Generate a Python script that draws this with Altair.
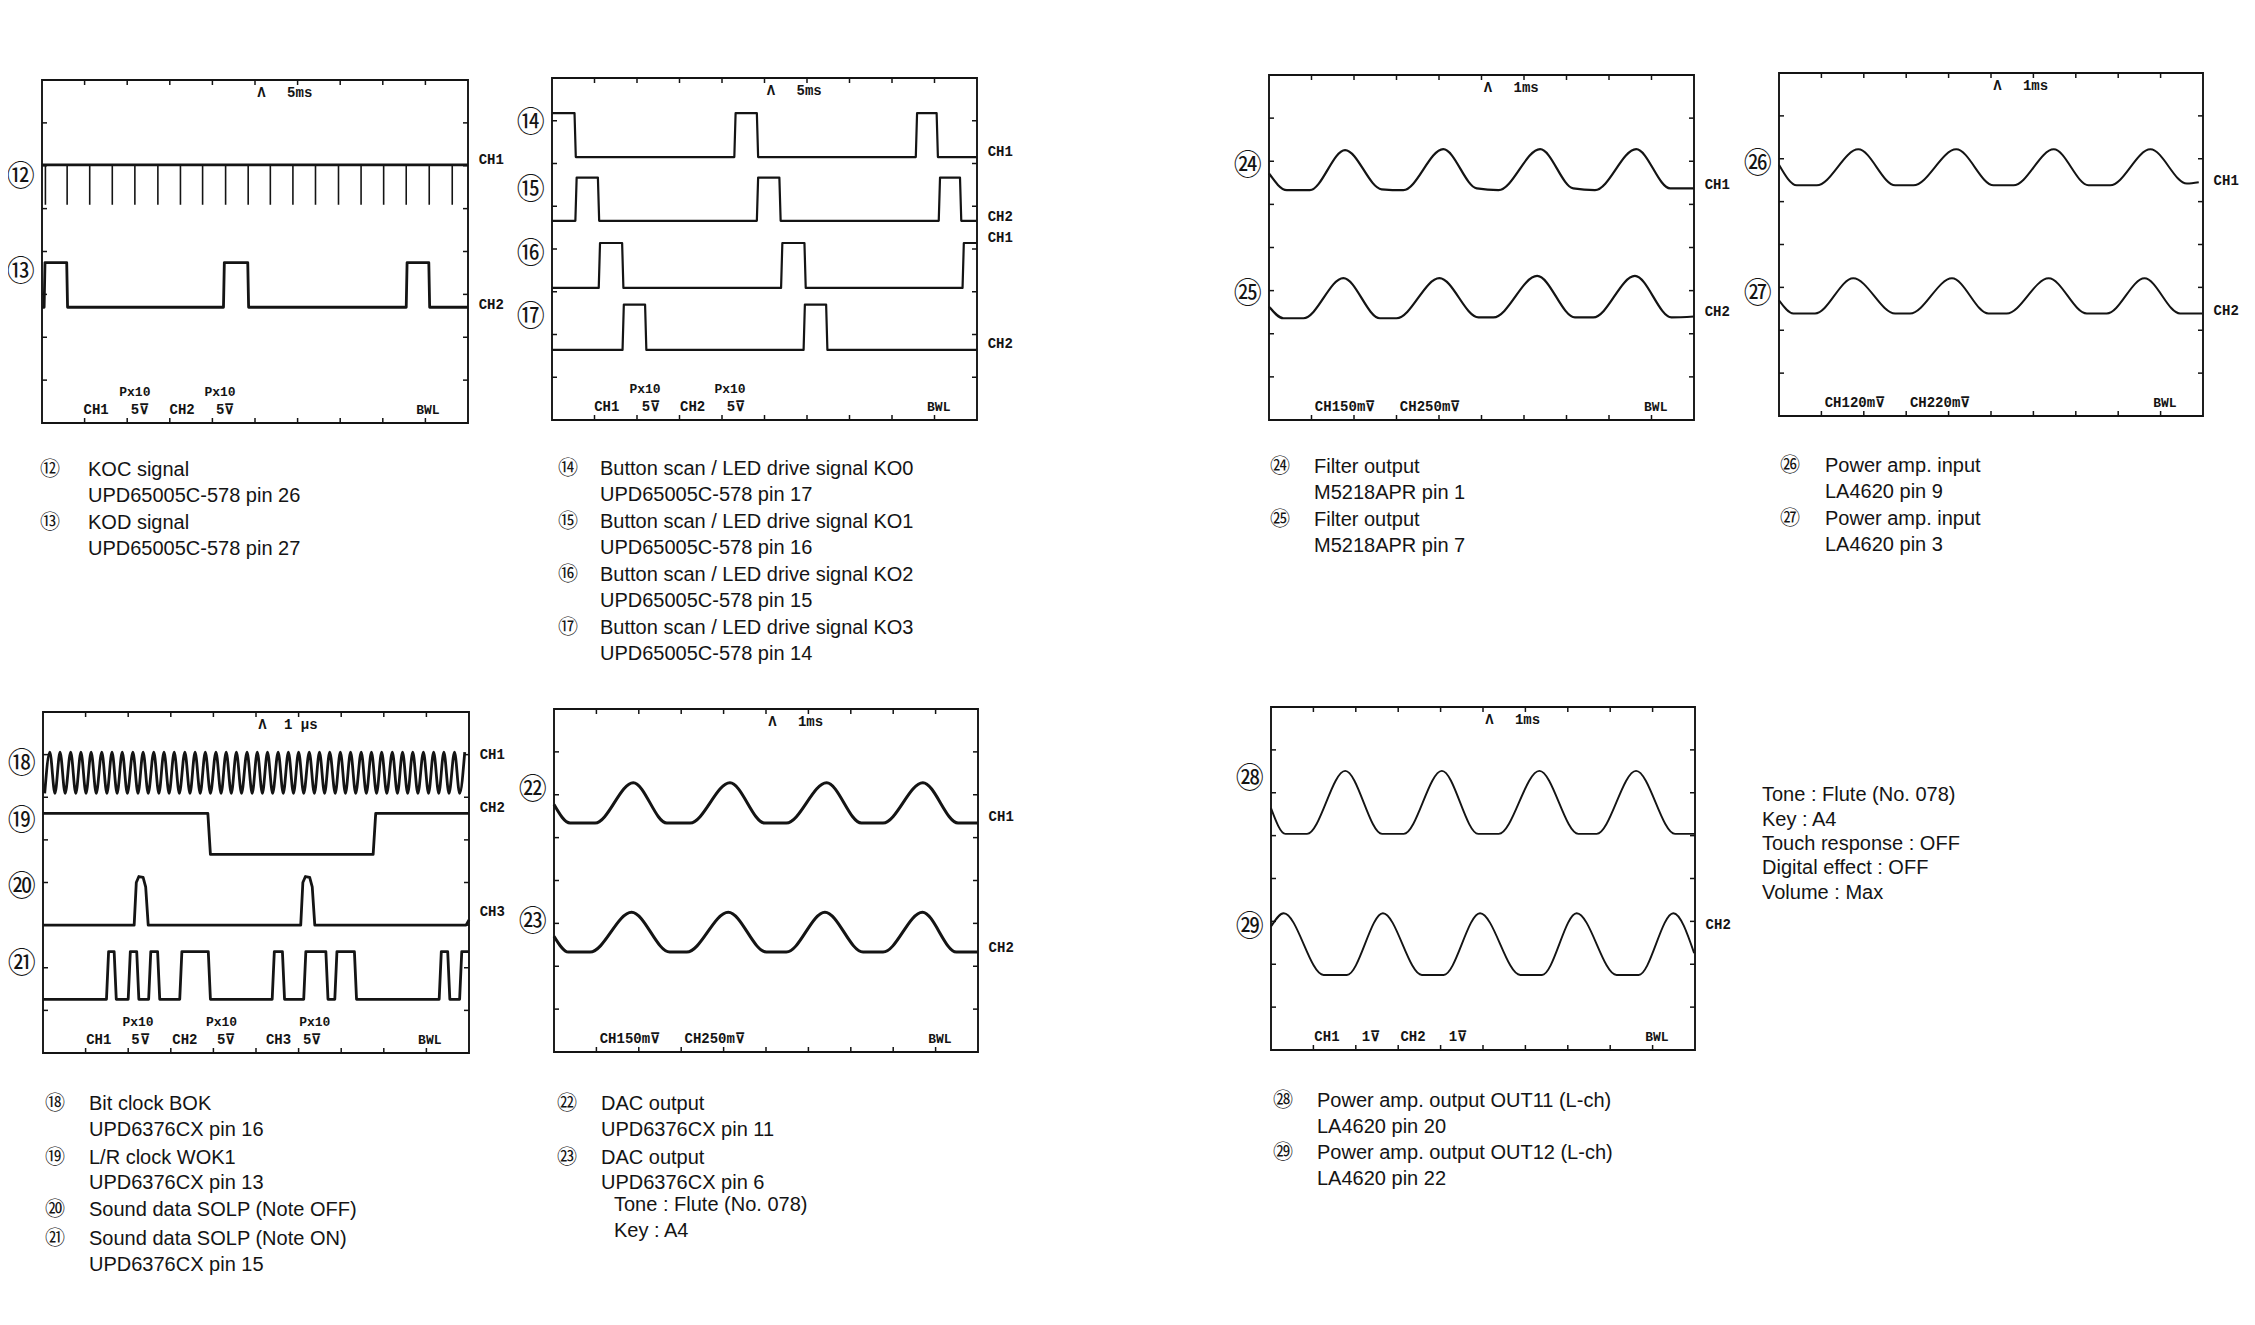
import altair as alt
import pandas as pd

# ===================== values =====================
# time in screen divisions (0..10), level in divisions (0..8, 0 = bottom line)

# --- Panel A : KOC / KOD (5 ms/div)
koc_level = 6.02
koc_spike_low = 5.09
koc_spike_t = [0.08, 0.59, 1.12, 1.65, 2.18, 2.72, 3.25, 3.77, 4.31, 4.84,
               5.36, 5.89, 6.42, 6.96, 7.49, 8.02, 8.55, 9.09, 9.63]
kod_levels = [2.70, 3.74]
kod_pulses = [[0.05, 0.60], [4.26, 4.85], [8.55, 9.10]]

# --- Panel B : button scan KO0..KO3 (5 ms/div)
ko0_levels = [6.15, 7.18]
ko0_pulses = [[0.00, 0.56], [4.29, 4.85], [8.56, 9.08]]
ko1_levels = [4.66, 5.67]
ko1_pulses = [[0.55, 1.11], [4.82, 5.38], [9.10, 9.63]]
ko2_levels = [3.09, 4.14]
ko2_pulses = [[1.10, 1.68], [5.39, 5.97], [9.66, 10.5]]
ko3_levels = [1.64, 2.70]
ko3_pulses = [[1.66, 2.22], [5.92, 6.48]]

# --- Panel C : filter output (1 ms/div)
c24_t = [0, 0.42, 0.96, 1.79, 2.65, 3.16, 4.10, 4.89, 5.40, 6.38, 7.16, 7.67, 8.64, 9.44, 10]
c24_v = [5.72, 5.33, 5.33, 6.26, 5.35, 5.33, 6.28, 5.37, 5.33, 6.28, 5.37, 5.33, 6.28, 5.37, 5.37]
c25_t = [0, 0.34, 0.81, 1.75, 2.61, 3.00, 4.01, 4.93, 5.28, 6.31, 7.20, 7.63, 8.61, 9.47, 10]
c25_v = [2.63, 2.36, 2.36, 3.29, 2.36, 2.36, 3.29, 2.38, 2.38, 3.34, 2.38, 2.38, 3.34, 2.38, 2.40]

# --- Panel D : power amp input (1 ms/div)
d26_t = [0, 0.42, 0.89, 1.87, 2.74, 3.17, 4.18, 5.06, 5.53, 6.48, 7.30, 7.81, 8.76, 9.62, 9.90]
d26_v = [5.86, 5.38, 5.38, 6.22, 5.38, 5.38, 6.22, 5.38, 5.38, 6.22, 5.38, 5.38, 6.22, 5.42, 5.45]
d27_t = [0, 0.34, 0.85, 1.75, 2.74, 3.09, 4.08, 4.94, 5.37, 6.36, 7.26, 7.73, 8.62, 9.46, 9.98]
d27_v = [2.70, 2.39, 2.39, 3.21, 2.39, 2.39, 3.21, 2.39, 2.39, 3.21, 2.39, 2.39, 3.21, 2.39, 2.39]

# --- Panel E : BOK / WOK1 / SOLP (1 us/div)
bok_levels = [6.09, 7.06]
bok_peak_t = [0.16, 0.40, 0.65, 0.89, 1.13, 1.38, 1.62, 1.86, 2.11, 2.35, 2.60, 2.84, 3.08, 3.33,
              3.57, 3.81, 4.06, 4.30, 4.54, 4.79, 5.03, 5.27, 5.52, 5.76, 6.00, 6.25, 6.49, 6.73,
              6.98, 7.22, 7.47, 7.71, 7.95, 8.20, 8.44, 8.68, 8.93, 9.17, 9.41, 9.66, 9.90]
bok_trough_t = [0.04, 0.28, 0.52, 0.77, 1.01, 1.25, 1.50, 1.74, 1.98, 2.23, 2.47, 2.72, 2.96, 3.20,
                3.45, 3.69, 3.93, 4.18, 4.42, 4.66, 4.91, 5.15, 5.39, 5.64, 5.88, 6.12, 6.37, 6.61,
                6.86, 7.10, 7.34, 7.59, 7.83, 8.07, 8.32, 8.56, 8.80, 9.05, 9.29, 9.53, 9.78]
wok_t = [0, 3.87, 3.93, 7.75, 7.81, 10]
wok_v = [5.62, 5.62, 4.66, 4.66, 5.62, 5.62]
solp_off_t = [0, 2.14, 2.19, 2.25, 2.35, 2.41, 2.47, 6.05, 6.10, 6.16, 6.26, 6.32, 6.38, 9.93, 10]
solp_off_v = [3.0, 3.0, 4.0, 4.14, 4.12, 3.9, 3.0, 3.0, 4.0, 4.14, 4.12, 3.9, 3.0, 3.0, 3.12]
solp_on_levels = [1.26, 2.38]
solp_on_pulses = [[1.49, 1.72], [2.00, 2.25], [2.48, 2.74], [3.21, 3.93], [5.38, 5.67],
                  [6.12, 6.69], [6.85, 7.36], [9.30, 9.55], [9.78, 10.5]]

# --- Panel F : DAC output (1 ms/div)
f22_t = [0, 0.38, 0.97, 1.87, 2.66, 3.21, 4.15, 4.97, 5.48, 6.43, 7.25, 7.76, 8.70, 9.53, 10]
f22_v = [5.77, 5.34, 5.34, 6.28, 5.34, 5.34, 6.28, 5.34, 5.34, 6.28, 5.34, 5.34, 6.28, 5.34, 5.34]
f23_t = [0, 0.34, 0.85, 1.83, 2.73, 3.13, 4.11, 5.01, 5.48, 6.39, 7.29, 7.76, 8.69, 9.49, 10]
f23_v = [2.70, 2.33, 2.33, 3.26, 2.33, 2.33, 3.26, 2.33, 2.33, 3.26, 2.33, 2.33, 3.26, 2.33, 2.33]

# --- Panel G : power amp output (1 ms/div)
g28_t = [0, 0.34, 0.85, 1.75, 2.62, 3.13, 4.03, 4.89, 5.37, 6.33, 7.25, 7.68, 8.61, 9.53, 10]
g28_v = [5.64, 5.04, 5.04, 6.51, 5.04, 5.04, 6.51, 5.04, 5.04, 6.51, 5.04, 5.04, 6.51, 5.04, 5.04]
g29_t = [0, 0.30, 1.24, 1.79, 2.64, 3.56, 4.07, 4.93, 5.88, 6.39, 7.21, 8.15, 8.67, 9.49, 9.98]
g29_v = [2.88, 3.19, 1.75, 1.75, 3.19, 1.75, 1.75, 3.19, 1.75, 1.75, 3.19, 1.75, 1.75, 3.19, 2.26]

# --- texts
timebases = {"A": "5ms", "B": "5ms", "C": "1ms", "D": "1ms", "E": "1 μs", "F": "1ms", "G": "1ms"}
channel_labels = {
    "A": [["CH1", 6.14], ["CH2", 2.76]],
    "B": [["CH1", 6.28], ["CH2", 4.76], ["CH1", 4.25], ["CH2", 1.78]],
    "C": [["CH1", 5.45], ["CH2", 2.51]],
    "D": [["CH1", 5.47], ["CH2", 2.45]],
    "E": [["CH1", 6.99], ["CH2", 5.75], ["CH3", 3.31]],
    "F": [["CH1", 5.47], ["CH2", 2.43]],
    "G": [["CH2", 2.92]],
}
marker_labels = {
    "A": [["⑫", 5.72], ["⑬", 3.50]],
    "B": [["⑭", 6.92], ["⑮", 5.36], ["⑯", 3.86], ["⑰", 2.39]],
    "C": [["㉔", 5.87], ["㉕", 2.90]],
    "D": [["㉖", 5.86], ["㉗", 2.83]],
    "E": [["⑱", 6.76], ["⑲", 5.42], ["⑳", 3.87], ["㉑", 2.06]],
    "F": [["㉒", 6.09], ["㉓", 3.01]],
    "G": [["㉘", 6.30], ["㉙", 2.85]],
}
probe_rows = {
    "A": [["CH1", 1.27, "L"], ["Px10", 2.18, "S"], ["5⊽", 2.30, "L"], ["CH2", 3.29, "L"],
          ["Px10", 4.18, "S"], ["5⊽", 4.30, "L"], ["BWL", 9.06, "B"]],
    "B": [["CH1", 1.29, "L"], ["Px10", 2.19, "S"], ["5⊽", 2.33, "L"], ["CH2", 3.31, "L"],
          ["Px10", 4.19, "S"], ["5⊽", 4.33, "L"], ["BWL", 9.10, "B"]],
    "C": [["CH150m⊽", 1.79, "L"], ["CH250m⊽", 3.79, "L"], ["BWL", 9.10, "B"]],
    "D": [["CH120m⊽", 1.79, "L"], ["CH220m⊽", 3.80, "L"], ["BWL", 9.10, "B"]],
    "E": [["CH1", 1.31, "L"], ["Px10", 2.23, "S"], ["5⊽", 2.29, "L"], ["CH2", 3.33, "L"],
          ["Px10", 4.19, "S"], ["5⊽", 4.30, "L"], ["CH3", 5.53, "L"], ["Px10", 6.38, "S"],
          ["5⊽", 6.32, "L"], ["BWL", 9.08, "B"]],
    "F": [["CH150m⊽", 1.79, "L"], ["CH250m⊽", 3.79, "L"], ["BWL", 9.10, "B"]],
    "G": [["CH1", 1.32, "L"], ["1⊽", 2.36, "L"], ["CH2", 3.35, "L"], ["1⊽", 4.41, "L"],
          ["BWL", 9.10, "B"]],
}
caption_lines = {
    "A": [["⑫", "KOC signal"], ["", "UPD65005C-578 pin 26"], ["⑬", "KOD signal"],
          ["", "UPD65005C-578 pin 27"]],
    "B": [["⑭", "Button scan / LED drive signal KO0"], ["", "UPD65005C-578 pin 17"],
          ["⑮", "Button scan / LED drive signal KO1"], ["", "UPD65005C-578 pin 16"],
          ["⑯", "Button scan / LED drive signal KO2"], ["", "UPD65005C-578 pin 15"],
          ["⑰", "Button scan / LED drive signal KO3"], ["", "UPD65005C-578 pin 14"]],
    "C": [["㉔", "Filter output"], ["", "M5218APR pin 1"], ["㉕", "Filter output"],
          ["", "M5218APR pin 7"]],
    "D": [["㉖", "Power amp. input"], ["", "LA4620 pin 9"], ["㉗", "Power amp. input"],
          ["", "LA4620 pin 3"]],
    "E": [["⑱", "Bit clock BOK"], ["", "UPD6376CX pin 16"], ["⑲", "L/R clock WOK1"],
          ["", "UPD6376CX pin 13"], ["⑳", "Sound data SOLP (Note OFF)"],
          ["㉑", "Sound data SOLP (Note ON)"], ["", "UPD6376CX pin 15"]],
    "F": [["㉒", "DAC output"], ["", "UPD6376CX pin 11"], ["㉓", "DAC output"],
          ["", "UPD6376CX pin 6"], [" ", "Tone : Flute (No. 078)"], [" ", "Key : A4"]],
    "G": [["㉘", "Power amp. output OUT11 (L-ch)"], ["", "LA4620 pin 20"],
          ["㉙", "Power amp. output OUT12 (L-ch)"], ["", "LA4620 pin 22"]],
}
settings_lines = ["Tone : Flute (No. 078)", "Key : A4", "Touch response : OFF",
                  "Digital effect : OFF", "Volume : Max"]

# ===================== layout (page pixels) =====================
PANELS = {
    "A": dict(x0=42, y0=80, w=426, h=343, lw=2.8),
    "B": dict(x0=552, y0=78, w=425, h=342, lw=2.2),
    "C": dict(x0=1269, y0=75, w=425, h=345, lw=2.2),
    "D": dict(x0=1779, y0=73, w=424, h=343, lw=2.0),
    "E": dict(x0=43, y0=712, w=426, h=341, lw=2.8),
    "F": dict(x0=554, y0=709, w=424, h=343, lw=3.0),
    "G": dict(x0=1271, y0=707, w=424, h=343, lw=1.9),
}
CAPTIONS = {  # circle x, text x, line y positions
    "A": dict(cx=50, tx=88, ys=[470, 496, 523, 549]),
    "B": dict(cx=568, tx=600, ys=[469, 495, 522, 548, 575, 601, 628, 654]),
    "C": dict(cx=1280, tx=1314, ys=[467, 493, 520, 546]),
    "D": dict(cx=1790, tx=1825, ys=[466, 492, 519, 545]),
    "E": dict(cx=55, tx=89, ys=[1104, 1130, 1158, 1183, 1210, 1239, 1265]),
    "F": dict(cx=567, tx=601, ys=[1104, 1130, 1158, 1183, 1205, 1231]),
    "G": dict(cx=1283, tx=1317, ys=[1101, 1127, 1153, 1179]),
}
SETTINGS = dict(tx=1762, ys=[795, 820, 844, 868, 893])
INK = "#141414"


def gx(p, t):
    return PANELS[p]["x0"] + t * PANELS[p]["w"] / 10.0


def gy(p, v):
    return PANELS[p]["y0"] + (8 - v) * PANELS[p]["h"] / 8.0


def pulse_points(levels, pulses, e=0.03):
    lo, hi = levels
    pts = [(0.0, hi)] if pulses and pulses[0][0] <= 0 else [(0.0, lo)]
    for r, f in pulses:
        if r > 0:
            pts += [(r, lo), (r + e, hi)]
        if f < 10:
            pts += [(f - e, hi), (f, lo)]
        else:
            pts.append((10.0, hi))
    if pts[-1][0] < 10:
        pts.append((10.0, pts[-1][1]))
    return pts


lin_rows, mono_rows = [], []


def add(rows, name, panel, pts):
    for i, (t, v) in enumerate(pts):
        rows.append(dict(trace=name, i=i, X=gx(panel, t), Y=gy(panel, v), sw=PANELS[panel]["lw"]))


add(lin_rows, "koc", "A", [(0.0, koc_level), (10.0, koc_level)])
add(lin_rows, "kod", "A", pulse_points(kod_levels, kod_pulses, 0.02))
add(lin_rows, "ko0", "B", pulse_points(ko0_levels, ko0_pulses))
add(lin_rows, "ko1", "B", pulse_points(ko1_levels, ko1_pulses))
add(lin_rows, "ko2", "B", pulse_points(ko2_levels, ko2_pulses))
add(lin_rows, "ko3", "B", pulse_points(ko3_levels, ko3_pulses))
add(lin_rows, "wok", "E", list(zip(wok_t, wok_v)))
add(lin_rows, "solp_off", "E", list(zip(solp_off_t, solp_off_v)))
add(lin_rows, "solp_on", "E", pulse_points(solp_on_levels, solp_on_pulses, 0.05))

bok_pts = sorted([(t, bok_levels[1]) for t in bok_peak_t] + [(t, bok_levels[0]) for t in bok_trough_t])
add(mono_rows, "bok", "E", bok_pts)
add(mono_rows, "c24", "C", list(zip(c24_t, c24_v)))
add(mono_rows, "c25", "C", list(zip(c25_t, c25_v)))
add(mono_rows, "d26", "D", list(zip(d26_t, d26_v)))
add(mono_rows, "d27", "D", list(zip(d27_t, d27_v)))
add(mono_rows, "f22", "F", list(zip(f22_t, f22_v)))
add(mono_rows, "f23", "F", list(zip(f23_t, f23_v)))
add(mono_rows, "g28", "G", list(zip(g28_t, g28_v)))
add(mono_rows, "g29", "G", list(zip(g29_t, g29_v)))

lin_df = pd.DataFrame(lin_rows)
mono_df = pd.DataFrame(mono_rows)

spike_df = pd.DataFrame([dict(X=gx("A", t), Y=gy("A", koc_level), Y2=gy("A", koc_spike_low))
                         for t in koc_spike_t])

frame_df = pd.DataFrame([dict(X=p["x0"], X2=p["x0"] + p["w"], Y=p["y0"], Y2=p["y0"] + p["h"])
                         for p in PANELS.values()])

tick_rows = []
TL = 5
for k, p in PANELS.items():
    x1, y1 = p["x0"] + p["w"], p["y0"] + p["h"]
    for d in range(1, 10):
        x = gx(k, d)
        tick_rows.append(dict(X=x, X2=x, Y=p["y0"], Y2=p["y0"] + TL))
        tick_rows.append(dict(X=x, X2=x, Y=y1, Y2=y1 - TL))
    for d in range(1, 8):
        y = gy(k, d)
        tick_rows.append(dict(X=p["x0"], X2=p["x0"] + TL, Y=y, Y2=y))
        tick_rows.append(dict(X=x1, X2=x1 - TL, Y=y, Y2=y))
tick_df = pd.DataFrame(tick_rows)

scope_big, scope_small, chan_rows, mark_rows = [], [], [], []
for k in PANELS:
    scope_big.append(dict(X=gx(k, 5.15), Y=gy(k, 7.70), text="Λ"))
    scope_big.append(dict(X=gx(k, 6.05), Y=gy(k, 7.70), text=timebases[k]))
    for txt, t, kind in probe_rows[k]:
        if kind == "S":
            scope_small.append(dict(X=gx(k, t), Y=gy(k, 0.72), text=txt))
        elif kind == "B":
            scope_small.append(dict(X=gx(k, t), Y=gy(k, 0.30), text=txt))
        else:
            scope_big.append(dict(X=gx(k, t), Y=gy(k, 0.30), text=txt))
    for txt, v in channel_labels[k]:
        chan_rows.append(dict(X=gx(k, 10.25), Y=gy(k, v), text=txt))
    for txt, v in marker_labels[k]:
        mark_rows.append(dict(X=gx(k, -0.5), Y=gy(k, v), text=txt))

cap_rows, capc_rows = [], []
for k, lay in CAPTIONS.items():
    for (circ, txt), y in zip(caption_lines[k], lay["ys"]):
        tx = lay["tx"] + (13 if circ == " " else 0)
        cap_rows.append(dict(X=tx, Y=y, text=txt))
        if circ.strip():
            capc_rows.append(dict(X=lay["cx"], Y=y, text=circ))
for txt, y in zip(settings_lines, SETTINGS["ys"]):
    cap_rows.append(dict(X=SETTINGS["tx"], Y=y, text=txt))

xs = alt.Scale(domain=[8, 2247], nice=False, zero=False)
ys = alt.Scale(domain=[8, 1317], nice=False, zero=False, reverse=True)
X = alt.X("X:Q", scale=xs, axis=None)
Y = alt.Y("Y:Q", scale=ys, axis=None)

frames = alt.Chart(frame_df).mark_rect(filled=False, stroke=INK, strokeWidth=1.9).encode(
    x=X, x2="X2:Q", y=Y, y2="Y2:Q")
ticks = alt.Chart(tick_df).mark_rule(color=INK, strokeWidth=1.5).encode(
    x=X, x2="X2:Q", y=Y, y2="Y2:Q")
spikes = alt.Chart(spike_df).mark_rule(color=INK, strokeWidth=1.6).encode(x=X, y=Y, y2="Y2:Q")
lin = alt.Chart(lin_df).mark_line(color=INK, interpolate="linear", strokeJoin="round").encode(
    x=X, y=Y, detail="trace:N", order="i:Q", strokeWidth=alt.StrokeWidth("sw:Q", scale=None))
mono = alt.Chart(mono_df).mark_line(color=INK, interpolate="monotone", strokeJoin="round").encode(
    x=X, y=Y, detail="trace:N", order="i:Q", strokeWidth=alt.StrokeWidth("sw:Q", scale=None))


def text_layer(rows, font, size, align, weight="normal"):
    return alt.Chart(pd.DataFrame(rows)).mark_text(
        font=font, fontSize=size, align=align, baseline="middle", color=INK, fontWeight=weight
    ).encode(x=X, y=Y, text="text:N")


layers = [
    frames, ticks, spikes, lin, mono,
    text_layer(scope_big, "Liberation Mono", 14, "center", "bold"),
    text_layer(scope_small, "Liberation Mono", 13, "center", "bold"),
    text_layer(chan_rows, "Liberation Mono", 14, "left", "bold"),
    text_layer(mark_rows, "Noto Sans CJK JP", 28, "center"),
    text_layer(cap_rows, "Liberation Sans", 20, "left"),
    text_layer(capc_rows, "Noto Sans CJK JP", 20, "center"),
]

chart = alt.layer(*layers).properties(
    width=2239, height=1309, autosize=alt.AutoSizeParams(type="none"), padding=0,
    background="white"
).configure_view(strokeWidth=0)

chart.save("out.html", embed_options={"renderer": "svg", "actions": False})
